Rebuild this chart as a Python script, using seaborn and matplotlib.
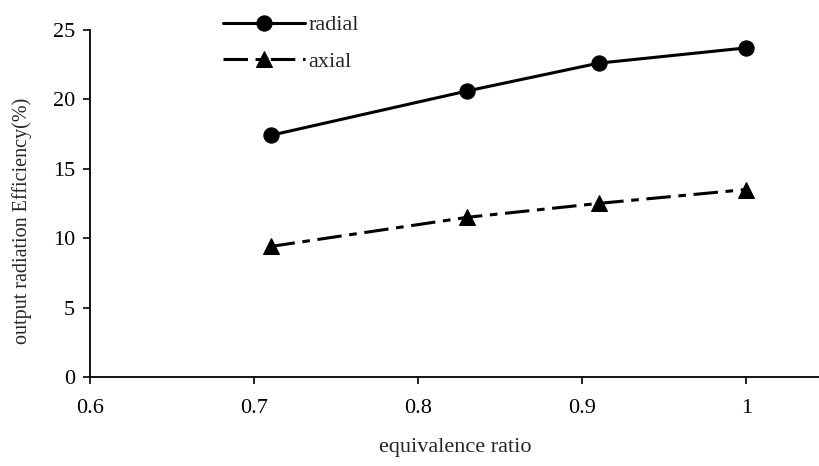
import matplotlib
matplotlib.use('Agg')
import matplotlib.pyplot as plt
import seaborn as sns
import pandas as pd

# values
ratio = [0.71, 0.83, 0.91, 1.0]
radial = [17.4, 20.6, 22.6, 23.7]
axial = [9.4, 11.5, 12.5, 13.5]

sns.set_style('ticks')
plt.rcParams['font.family'] = ['Liberation Serif', 'DejaVu Serif']

df = pd.DataFrame({'ratio': ratio, 'radial': radial, 'axial': axial})

fig = plt.figure(figsize=(8.2, 4.66), dpi=100)
ax = fig.add_axes([0.11, 0.191, 0.89, 0.745])

sns.lineplot(data=df, x='ratio', y='radial', ax=ax, color='black', lw=2.2,
             marker='o', markersize=11, markeredgecolor='black', label='radial')
sns.lineplot(data=df, x='ratio', y='axial', ax=ax, color='black', lw=2.2,
             marker='^', markersize=11, markeredgecolor='black', label='axial',
             linestyle=(0, (8, 2.5, 2.5, 2.5)))

ax.set_xlim(0.6, 1.045)
ax.set_ylim(0, 25)
ax.set_xticks([0.6, 0.7, 0.8, 0.9, 1.0])
ax.set_xticklabels(['0.6', '0.7', '0.8', '0.9', '1'])
ax.set_yticks([0, 5, 10, 15, 20, 25])
ax.tick_params(labelsize=16, direction='out', length=5, width=1.2, colors='black', pad=6)
ax.tick_params(axis='x', pad=11)
for s in ['left', 'bottom']:
    ax.spines[s].set_linewidth(1.3)
    ax.spines[s].set_color('black')
sns.despine(ax=ax)

ax.set_xlabel('equivalence ratio', fontsize=16, labelpad=14)
ax.set_ylabel('output radiation Efficiency(%)', fontsize=14.5)
ax.yaxis.set_label_coords(-0.08, 0.45)

ax.legend(loc='upper left', bbox_to_anchor=(214 / 820, 1 - 6 / 466), bbox_transform=fig.transFigure,
          frameon=False, fontsize=16, handlelength=3.7, handletextpad=0.15, labelspacing=0.7,
          borderaxespad=0)

fig.savefig('out.png', dpi=100)
